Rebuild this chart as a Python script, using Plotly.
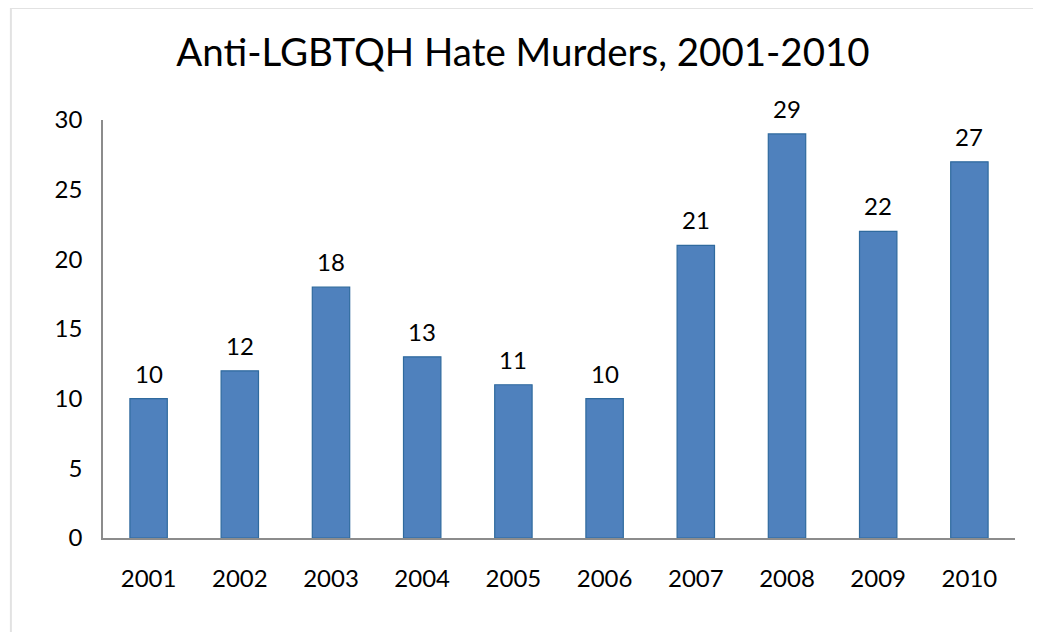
import plotly.graph_objects as go

years = ['2001', '2002', '2003', '2004', '2005', '2006', '2007', '2008', '2009', '2010']
murders = [10, 12, 18, 13, 11, 10, 21, 29, 22, 27]

font_family = "Lato, 'DejaVu Sans', sans-serif"

fig = go.Figure(go.Bar(
    x=years,
    y=murders,
    marker=dict(color='#4F81BD', line=dict(color='#2F6A9E', width=1.2)),
))

# value labels above bars
for i, val in enumerate(murders):
    fig.add_annotation(x=i, y=val, text=str(val), showarrow=False, yanchor='bottom',
                       yshift=9, font=dict(size=24, color='black'))

# page body adds 8px, so margins are shifted
fig.update_layout(
    width=1041, height=632,
    margin=dict(l=95, r=34, t=112, b=102),
    paper_bgcolor='white', plot_bgcolor='white',
    font=dict(family=font_family, color='black'),
    title=dict(text='Anti-LGBTQH Hate Murders, 2001-2010', x=0.4947, xanchor='center',
               y=0.930, yanchor='middle', font=dict(size=38.5, color='black')),
    bargap=0.59,
    showlegend=False,
)

fig.update_xaxes(type='category', range=[-0.5, 9.5], showline=True, linecolor='#8C8C8C',
                 linewidth=1.5, ticks='', tickfont=dict(size=24), ticklabelstandoff=18,
                 showgrid=False)
fig.update_yaxes(range=[0, 30], dtick=5, showline=True, linecolor='#8C8C8C', linewidth=1.5,
                 ticks='', tickfont=dict(size=24), ticklabelstandoff=14, showgrid=False,
                 zeroline=False)

# light outer frame
fig.add_shape(type='rect', xref='paper', yref='paper', x0=-0.101, x1=1.027, y0=-0.3, y1=1.268,
              line=dict(color='#E2E2E2', width=2), layer='below')

fig.write_html("out.html")
